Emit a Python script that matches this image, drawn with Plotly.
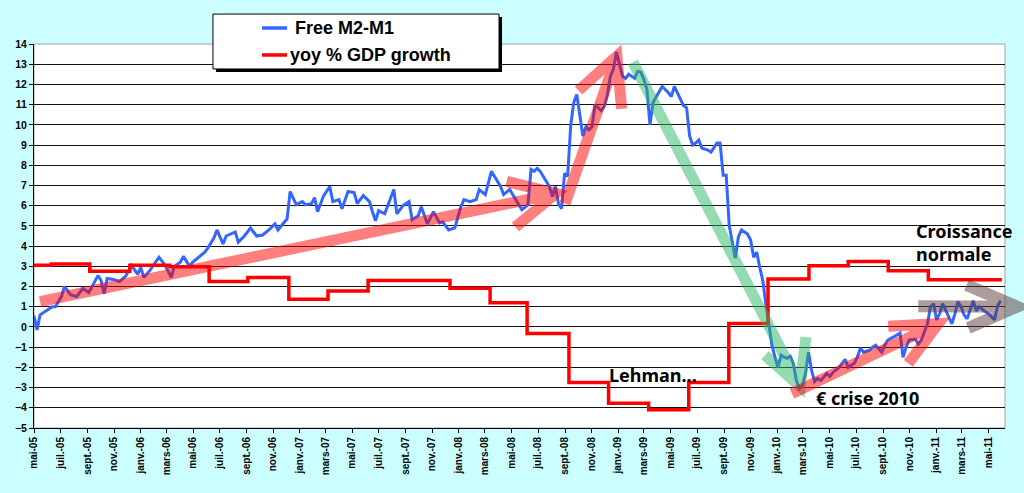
import pandas as pd
import plotly.graph_objects as go

# Free M2-M1 (weekly, week number counted from 1 May 2005)
m2m1_week = [0, 1, 2, 4, 6, 7, 9, 10, 12, 14, 16, 18, 21, 22, 23, 24, 26, 28, 30, 32,
             34, 35, 36, 38, 40, 41, 43, 45, 46, 48, 49, 51, 52, 54, 56, 57, 59, 60, 62, 63,
             66, 67, 69, 71, 73, 75, 77, 79, 80, 83, 84, 86, 88, 89, 91, 92, 93, 95, 97, 98,
             100, 101, 103, 105, 106, 108, 110, 111, 112, 113, 115, 116, 118, 119, 121, 123, 124, 126, 127, 129,
             131, 133, 134, 136, 138, 140, 141, 143, 145, 146, 148, 150, 152, 153, 154, 156, 159, 160, 162, 163,
             164, 165, 166, 168, 169, 170, 171, 172, 173, 174, 175, 176, 177, 178, 179, 180, 181, 182, 183, 184,
             186, 187, 188, 189, 190, 191, 192, 193, 194, 195, 197, 198, 199, 200, 201, 202, 203, 204, 206, 208,
             209, 210, 211, 213, 214, 215, 216, 217, 218, 219, 221, 222, 224, 225, 226, 227, 228, 229, 230, 231,
             232, 234, 235, 236, 237, 238, 239, 240, 241, 242, 243, 244, 245, 246, 247, 248, 249, 250, 251, 252,
             253, 254, 255, 256, 257, 258, 260, 261, 262, 264, 265, 266, 267, 269, 270, 271, 272, 274, 275, 276,
             278, 279, 280, 282, 283, 284, 285, 286, 287, 289, 290, 291, 292, 293, 294, 295, 296, 297, 298, 299,
             301, 302, 303, 304, 305, 306, 307, 308, 309, 310, 312, 313, 315, 316, 317]
m2m1 = [0.55, -0.15, 0.6, 0.8, 1.0, 1.0, 1.5, 2.0, 1.6, 1.5, 1.9, 1.7, 2.55, 2.3, 1.65, 2.4, 2.35, 2.25, 2.5, 3.05,
        2.6, 2.95, 2.45, 2.8, 3.25, 3.45, 3.05, 2.45, 3.0, 3.2, 3.5, 3.0, 3.2, 3.45, 3.7, 3.9, 4.4, 4.8, 4.1, 4.5,
        4.7, 4.2, 4.5, 4.9, 4.5, 4.55, 4.8, 5.1, 4.8, 5.35, 6.7, 6.05, 6.2, 6.05, 6.1, 6.4, 5.7, 6.5, 6.95, 6.2,
        6.3, 5.85, 6.7, 6.65, 6.1, 6.5, 6.2, 5.7, 5.25, 5.75, 5.6, 6.0, 6.8, 5.6, 6.0, 6.2, 5.3, 5.5, 5.95, 5.1,
        5.7, 5.15, 5.2, 4.8, 4.9, 5.95, 6.3, 6.2, 6.3, 6.8, 6.55, 7.7, 7.15, 6.95, 6.55, 6.8, 6.05, 5.8, 6.05, 7.8,
        7.7, 7.85, 7.7, 7.2, 6.95, 6.45, 6.95, 6.1, 5.85, 7.6, 7.45, 9.95, 11.1, 11.5, 10.35, 9.45, 9.9, 9.75, 9.9, 11.0,
        10.7, 10.9, 11.45, 12.4, 12.75, 13.6, 13.0, 12.4, 12.3, 12.5, 12.3, 12.65, 12.6, 12.25, 11.75, 10.0, 11.1, 11.35, 11.9, 11.6,
        11.4, 11.9, 11.6, 10.95, 10.85, 9.45, 9.0, 9.1, 9.25, 8.85, 8.75, 8.65, 9.1, 9.1, 7.5, 7.5, 5.0, 4.2, 3.4, 4.45,
        4.8, 4.6, 4.3, 3.45, 3.7, 2.95, 2.3, 1.15, 0.1, -0.9, -1.5, -2.0, -1.4, -1.5, -1.55, -1.45, -1.8, -2.65, -3.05, -2.9,
        -2.3, -1.25, -2.15, -2.7, -2.55, -2.65, -2.3, -2.45, -2.25, -2.0, -1.8, -1.6, -2.0, -1.8, -1.5, -1.05, -1.25, -1.15, -1.0, -0.9,
        -1.25, -0.9, -0.65, -0.5, -0.4, -0.3, -1.5, -1.0, -0.65, -0.6, -0.85, -0.65, -0.25, 0.15, 1.0, 1.15, 0.35, 0.65, 1.15, 0.8,
        0.15, 0.65, 1.25, 1.0, 0.6, 0.4, 0.9, 1.3, 0.8, 1.0, 0.75, 0.65, 0.35, 1.05, 1.3]

# yoy % GDP growth (step changes)
gdp_dates = ["2005-05-01", "2005-06-10", "2005-09-06", "2005-12-07", "2006-03-09", "2006-06-07",
             "2006-09-04", "2006-12-07", "2007-03-07", "2007-06-07", "2007-12-12", "2008-03-13",
             "2008-06-06", "2008-09-10", "2008-12-10", "2009-03-12", "2009-06-12", "2009-09-12",
             "2009-12-11", "2010-03-15", "2010-06-13", "2010-09-13", "2010-12-14", "2011-06-01"]
gdp = [3.05, 3.12, 2.75, 3.05, 2.98, 2.25, 2.45, 1.37, 1.78, 2.3, 1.92, 1.2,
       -0.32, -2.75, -3.78, -4.1, -2.75, 0.17, 2.37, 3.03, 3.24, 2.78, 2.33, 2.33]

mois = {1: "janv.", 3: "mars", 5: "mai", 7: "juil.", 9: "sept.", 11: "nov."}
tick_dates = pd.date_range("2005-05-01", "2011-05-01", freq="2MS")
tick_labels = [f"{mois[d.month]}-{d:%y}" for d in tick_dates]

m2m1_dates = pd.Timestamp("2005-05-01") + pd.to_timedelta([7 * w for w in m2m1_week], unit="D")

fig = go.Figure()
fig.add_trace(go.Scatter(x=m2m1_dates, y=m2m1, mode="lines", name="Free M2-M1",
                         line=dict(color="#3366FF", width=3)))
fig.add_trace(go.Scatter(x=gdp_dates, y=gdp, mode="lines", name="yoy % GDP growth",
                         line=dict(color="#FF0000", width=3.5, shape="hv")))


def arrow(tail, tip, b1, b2):
    p = lambda q: f"{q[0]},{q[1]}"
    return f"M{p(tail)} L{p(tip)} M{p(b1)} L{p(tip)} L{p(b2)}"


# hand drawn arrows (tail, tip, barb, barb)
arrows = [
    (arrow(("2005-05-15", 1.25), ("2008-08-11", 6.6), ("2008-04-20", 7.2), ("2008-05-10", 4.95)), "#FF0000", "x"),
    (arrow(("2008-09-01", 6.1), ("2008-12-29", 13.4), ("2008-10-02", 11.7), ("2009-01-09", 10.8)), "#FF0000", "x"),
    (arrow(("2009-02-04", 13.1), ("2010-02-23", -2.95), ("2009-12-04", -1.4), ("2010-03-08", -0.5)), "#2EB866", "x"),
    (arrow(("2010-02-04", -3.3), ("2011-01-06", 0.17), ("2010-09-13", 0.04), ("2010-10-29", -1.8)), "#FF0000", "x"),
    (arrow((0.9107, 1.03), (1.0124, 1.0), (0.9605, 2.07), (0.9622, -0.05)), "#603A3A", "paper"),
]
for path, col, xr in arrows:
    fig.add_shape(type="path", path=path, xref=xr, yref="y", layer="above",
                  line=dict(color=col, width=12 if xr == "paper" else 11), opacity=0.5)

# plot area border
fig.add_shape(type="rect", xref="paper", yref="paper", x0=0, x1=1, y0=0, y1=1,
              line=dict(color="#A0A0A0", width=1), layer="below")

# legend box drawn by hand
fig.add_shape(type="rect", xref="paper", yref="paper", x0=0.1875, x1=0.4820, y0=0.9271, y1=1.0703,
              fillcolor="black", line=dict(width=0), layer="above")
fig.add_shape(type="rect", xref="paper", yref="paper", x0=0.1843, x1=0.4789, y0=0.935, y1=1.078,
              fillcolor="white", line=dict(color="black", width=1), layer="above")
for y, tr, xt in [(1.0417, fig.data[0], 0.2667), (0.9714, fig.data[1], 0.2616)]:
    fig.add_shape(type="line", xref="paper", yref="paper", x0=0.2348, x1=0.2606, y0=y, y1=y,
                  line=dict(color=tr.line.color, width=3.5), layer="above")
    fig.add_annotation(x=xt, y=y, xref="paper", yref="paper", text=tr.name, showarrow=False,
                       xanchor="left", yanchor="middle",
                       font=dict(family="Liberation Sans", size=18, color="black", weight="bold"))

note_font = dict(family="Noto Sans", size=18, color="black", weight="bold")
for x, y, txt in [("2010-11-11", 4.2, "Croissance<br>normale"),
                  ("2008-12-06", -2.39, "Lehman..."),
                  ("2010-03-26", -3.54, "€ crise 2010")]:
    fig.add_annotation(x=x, y=y, text=txt, showarrow=False, xanchor="left", yanchor="middle",
                       align="left", font=note_font)

fig.update_xaxes(type="date", range=["2005-05-01", "2011-06-08"], tickvals=tick_dates, ticktext=tick_labels,
                 tickangle=-90, ticks="outside", ticklen=4, tickcolor="black", showline=True,
                 linecolor="black", linewidth=1, showgrid=False,
                 tickfont=dict(family="Liberation Sans", size=10, color="black", weight="bold"))
fig.update_yaxes(range=[-5, 14], dtick=1, tick0=0, ticks="outside", ticklen=4, tickcolor="black",
                 showline=True, linecolor="black", linewidth=1, showgrid=True, gridcolor="#111111",
                 gridwidth=1, zeroline=False,
                 tickfont=dict(family="Liberation Sans", size=10.5, color="black", weight="bold"))
fig.update_layout(width=1024, height=493, margin=dict(l=34, r=19, t=44, b=65),
                  paper_bgcolor="#CCFFFF", plot_bgcolor="white", showlegend=False)
fig.write_html("out.html", config={"displayModeBar": False},
               post_script="document.body.style.margin='0';")
